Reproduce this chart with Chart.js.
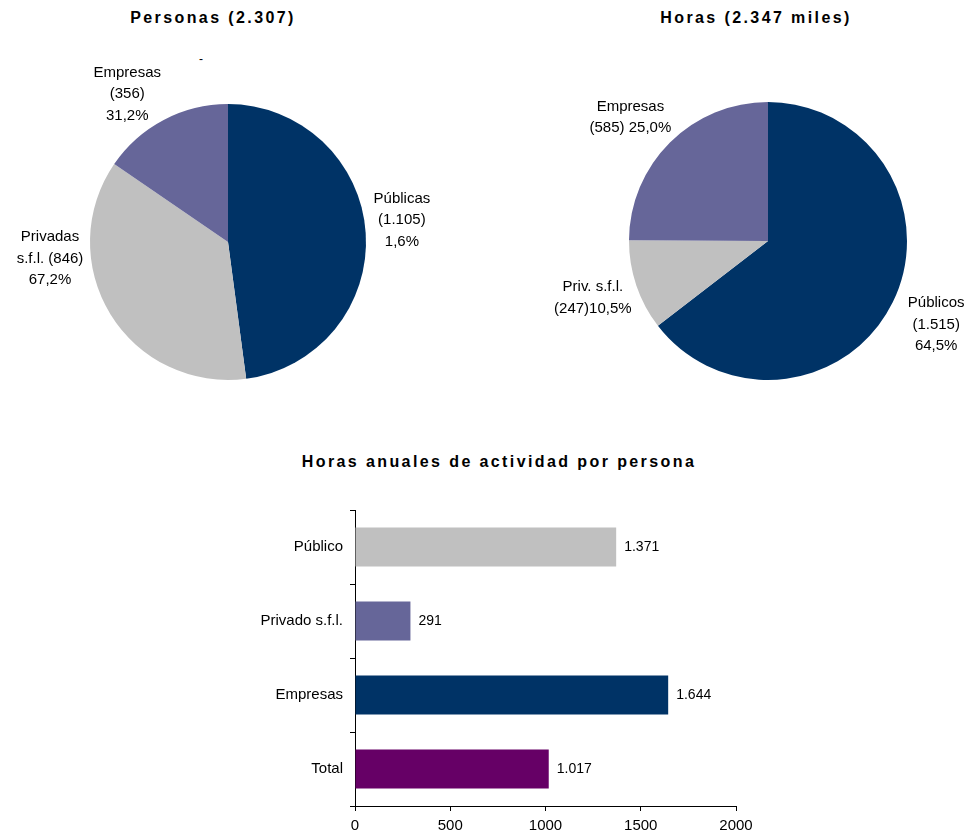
<!DOCTYPE html>
<html>
<head>
<meta charset="utf-8">
<script src="https://cdn.jsdelivr.net/npm/chart.js@4/dist/chart.umd.min.js"></script>
<style>
  body { margin: 0; background: #fff; }
  #wrap { position: relative; width: 967px; height: 836px; overflow: hidden; font-family: "Liberation Sans", Arial, sans-serif; }
  .title { position: absolute; font-weight: bold; font-size: 16px; letter-spacing: 2.4px; color: #000; text-align: center; white-space: nowrap; }
  canvas { position: absolute; }
  .dash { position: absolute; left: 199px; top: 52px; font-size: 12px; }
</style>
</head>
<body>
<div id="wrap">
  <div class="title" style="left:63px;width:300px;top:9px;">Personas (2.307)</div>
  <div class="title" style="left:606px;width:300px;top:9px;">Horas (2.347 miles)</div>
  <div class="title" style="left:249px;width:500px;top:453px;">Horas anuales de actividad por persona</div>
  <span class="dash">-</span>
  <div style="position:absolute;left:0;top:0;width:480px;height:420px;"><canvas id="piePersonas"></canvas></div>
  <div style="position:absolute;left:480px;top:0;width:487px;height:420px;"><canvas id="pieHoras"></canvas></div>
  <div style="position:absolute;left:0;top:490px;width:967px;height:346px;"><canvas id="barHoras"></canvas></div>
</div>
<script>
// sectores (mismo orden en las dos tartas)
const personasLabels = ['Públicas', 'Privadas s.f.l.', 'Empresas'];
const personasValues = [1105, 846, 356];
const personasPct = ['1,6%', '67,2%', '31,2%'];

const horasLabels = ['Públicos', 'Priv. s.f.l.', 'Empresas'];
const horasValues = [1515, 247, 585];
const horasPct = ['64,5%', '10,5%', '25,0%'];

// horas anuales por persona
const barLabels = ['Público', 'Privado s.f.l.', 'Empresas', 'Total'];
const barValues = [1371, 291, 1644, 1017];
const xTicks = [0, 500, 1000, 1500, 2000];

const sliceColors = ['#003366', '#c0c0c0', '#666699'];
const barColors = ['#c0c0c0', '#666699', '#003366', '#660066'];

const FONT = '"Liberation Sans", Arial, sans-serif';

function fmt(n) {
    return String(n).replace(/\B(?=(\d{3})+(?!\d))/g, '.');
}

// texto de cada sector: lineas + posicion relativa al centro (en radios)
const personasText = [
    { lines: ['Públicas', '(' + fmt(personasValues[0]) + ')', personasPct[0]], dx: 1.26, dy: -0.16 },
    { lines: ['Privadas', 's.f.l. (' + personasValues[1] + ')', personasPct[1]], dx: -1.29, dy: 0.12 },
    { lines: ['Empresas', '(' + personasValues[2] + ')', personasPct[2]], dx: -0.73, dy: -1.07 }
];
const horasText = [
    { lines: ['Públicos', '(' + fmt(horasValues[0]) + ')', horasPct[0]], dx: 1.21, dy: 0.60 },
    { lines: ['Priv. s.f.l.', '(' + horasValues[1] + ')' + horasPct[1]], dx: -1.26, dy: 0.41 },
    { lines: ['Empresas', '(' + horasValues[2] + ') ' + horasPct[2]], dx: -0.99, dy: -0.89 }
];

const pieText = {
    id: 'pieText',
    afterDatasetsDraw(chart, args, opts) {
        const ctx = chart.ctx;
        const arcs = chart.getDatasetMeta(0).data;
        ctx.save();
        ctx.font = '15px ' + FONT;
        ctx.fillStyle = '#000';
        ctx.textAlign = 'center';
        ctx.textBaseline = 'middle';
        opts.items.forEach((item, i) => {
            const a = arcs[i];
            const r = a.outerRadius;
            const cx = a.x + item.dx * r;
            const cy = a.y + item.dy * r;
            const lh = 21.5;
            const y0 = cy - (item.lines.length - 1) * lh / 2;
            item.lines.forEach((t, k) => ctx.fillText(t, cx, y0 + k * lh));
        });
        ctx.restore();
    }
};

function makePie(id, labels, values, items, pad) {
    new Chart(document.getElementById(id), {
        type: 'pie',
        data: {
            labels: labels,
            datasets: [{ data: values, backgroundColor: sliceColors, borderWidth: 0 }]
        },
        options: {
            responsive: true,
            maintainAspectRatio: false,
            animation: false,
            layout: { padding: pad },
            plugins: {
                legend: { display: false },
                tooltip: { enabled: false },
                pieText: { items: items }
            }
        },
        plugins: [pieText]
    });
}

makePie('piePersonas', personasLabels, personasValues, personasText, { left: 90, right: 114, top: 104, bottom: 40 });
makePie('pieHoras', horasLabels, horasValues, horasText, { left: 149, right: 60, top: 102, bottom: 40 });

const barText = {
    id: 'barText',
    afterDatasetsDraw(chart) {
        const ctx = chart.ctx;
        ctx.save();
        ctx.font = '14px ' + FONT;
        ctx.fillStyle = '#000';
        ctx.textBaseline = 'middle';
        chart.getDatasetMeta(0).data.forEach((bar, i) => {
            ctx.fillText(fmt(barValues[i]), bar.x + 8, bar.y);
        });
        ctx.restore();
    }
};

new Chart(document.getElementById('barHoras'), {
    type: 'bar',
    data: {
        labels: barLabels,
        datasets: [{ data: barValues, backgroundColor: barColors, borderWidth: 0, barPercentage: 0.53, categoryPercentage: 1 }]
    },
    options: {
        indexAxis: 'y',
        responsive: true,
        maintainAspectRatio: false,
        animation: false,
        layout: { padding: { left: 0, right: 231, top: 20, bottom: 0 } },
        plugins: { legend: { display: false }, tooltip: { enabled: false } },
        scales: {
            x: {
                min: 0,
                max: 2000,
                afterBuildTicks: s => { s.ticks = xTicks.map(v => ({ value: v })); },
                afterFit: s => { s.height = 30; },
                grid: { drawOnChartArea: false, drawTicks: true, tickLength: 5, color: '#000' },
                border: { color: '#000', width: 1 },
                ticks: { color: '#000', font: { family: FONT, size: 15 }, padding: 6, maxRotation: 0, callback: v => String(v) }
            },
            y: {
                afterFit: s => { s.width = 355; },
                grid: { drawOnChartArea: false, drawTicks: true, tickLength: 5, color: '#000', offset: true },
                border: { color: '#000', width: 1 },
                ticks: { color: '#000', font: { family: FONT, size: 15 }, padding: 7 }
            }
        }
    },
    plugins: [barText]
});
</script>
</body>
</html>
